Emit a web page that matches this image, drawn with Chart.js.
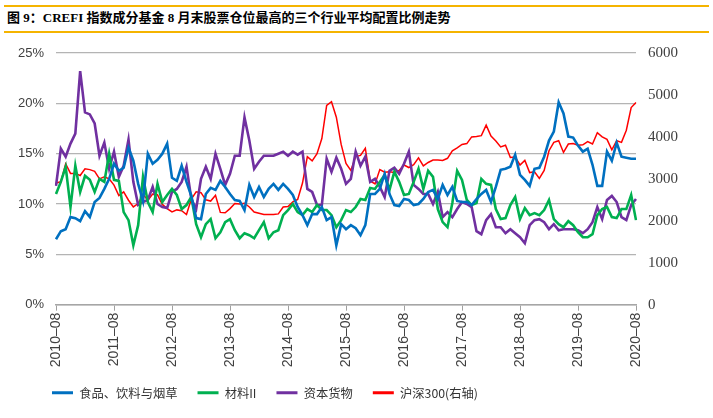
<!DOCTYPE html>
<html>
<head>
<meta charset="utf-8">
<script src="https://cdn.jsdelivr.net/npm/chart.js@4.4.0/dist/chart.umd.min.js"></script>
<style>
  body { margin: 0; width: 713px; height: 418px; background: #fff; overflow: hidden; position: relative; }
  #title {
    position: absolute; left: 4px; top: 5px; width: 702px; height: 24px;
    border-top: 2px solid #F5B400; border-bottom: 2px solid #F5B400;
    padding-left: 3px; line-height: 24px; color: #000;
    font: bold 13px "Liberation Serif", "Noto Sans CJK SC";
  }
  #wrap { position: absolute; left: 0; top: 32px; width: 713px; height: 386px; }
</style>
</head>
<body>
<div id="title">图 9：CREFI 指数成分基金 8 月末股票仓位最高的三个行业平均配置比例走势</div>
<div id="wrap"><canvas id="chartCanvas"></canvas></div>
<script>
// months 2010-08 .. 2020-08
const months = [];
for (let y = 2010; y <= 2020; y++) {
    for (let m = 1; m <= 12; m++) {
        if ((y === 2010 && m < 8) || (y === 2020 && m > 8)) continue;
        months.push(y + '–' + String(m).padStart(2, '0'));
    }
}

// 食品、饮料与烟草 (%)
const food = [
    6.5, 7.3, 7.5, 8.7, 8.6, 8.3, 9.3, 8.7, 10.2, 10.6,
    11.5, 12.5, 14.0, 13.3, 13.6, 15.6, 14.3, 12.0, 10.3, 15.0,
    14.0, 14.4, 15.0, 16.0, 12.6, 12.3, 13.8, 12.2, 10.8, 8.6,
    8.5, 11.0, 11.6, 11.4, 12.3, 11.7, 11.0, 10.4, 10.3, 9.4,
    11.9, 10.7, 11.7, 10.7, 11.5, 12.0, 11.4, 12.0, 11.5, 10.9,
    9.7, 8.9, 7.9, 9.0, 9.0, 9.7, 8.4, 8.7, 5.9, 8.0,
    7.5, 7.9, 7.6, 6.9, 7.9, 11.0, 11.0, 11.5, 13.0, 11.0,
    9.9, 9.8, 10.5, 10.4, 9.9, 10.0, 10.5, 11.2, 11.4, 10.5,
    11.9, 10.9, 11.7, 10.3, 10.2, 10.2, 9.9, 10.5, 11.0, 11.4,
    10.2, 11.7, 13.4, 13.5, 13.7, 14.9, 12.9, 12.4, 11.8, 13.5,
    13.6, 14.7, 16.3, 17.2, 20.1, 19.0, 16.7, 16.6, 15.8, 15.2,
    15.5, 13.9, 11.8, 11.8, 15.2, 14.3, 16.1, 14.7, 14.6, 14.5,
    14.5
];

// 材料II (%)
const materials = [
    11.0, 12.2, 13.7, 9.7, 13.8, 11.2, 12.8, 12.4, 11.2, 12.5,
    12.2, 15.0, 12.4, 12.3, 9.2, 8.4, 5.9, 7.9, 12.7, 10.2,
    9.2, 12.0, 10.2, 10.9, 11.5, 10.9, 9.5, 9.9, 10.7, 8.0,
    6.7, 8.0, 8.5, 6.6, 7.2, 8.2, 8.5, 7.4, 6.6, 7.1,
    6.9, 6.6, 7.4, 8.2, 6.6, 7.2, 7.4, 8.9, 9.4, 10.0,
    9.2, 8.9, 9.5, 9.2, 9.9, 9.4, 9.4, 8.9, 7.7, 8.4,
    9.4, 9.2, 9.7, 10.5, 10.4, 11.6, 11.5, 12.2, 12.9, 11.4,
    13.2, 12.2, 10.9, 11.0, 12.2, 13.5, 11.5, 13.3, 12.7, 9.5,
    8.2, 7.7, 10.1, 13.3, 12.4, 10.4, 9.9, 10.1, 12.5, 12.0,
    11.9, 9.5, 8.5, 8.6, 9.9, 10.7, 8.5, 9.6, 8.9, 9.1,
    8.9, 9.4, 10.4, 8.5, 8.0, 7.7, 8.3, 7.9, 7.2, 6.7,
    6.7, 7.0, 8.9, 9.5, 9.7, 8.7, 8.6, 9.5, 9.5, 10.9,
    8.4
];

// 资本货物 (%)
const capital = [
    11.8, 15.5, 14.7, 16.0, 17.0, 23.2, 19.1, 18.9, 18.0, 14.8,
    16.1, 13.5, 15.2, 12.7, 13.8, 16.4, 12.2, 9.9, 10.2, 10.4,
    11.7, 10.0, 9.7, 9.6, 11.2, 11.5, 12.2, 13.7, 10.5, 9.5,
    12.5, 13.7, 12.5, 15.0, 13.5, 11.9, 13.0, 14.8, 14.8, 18.6,
    16.3, 13.5, 14.2, 14.8, 14.8, 14.8, 15.0, 15.2, 14.8, 15.2,
    14.9, 15.2, 11.5, 11.2, 9.9, 9.9, 14.5, 13.2, 14.6, 13.5,
    12.0, 12.5, 15.2, 13.8, 14.7, 12.2, 12.5, 11.7, 10.7, 13.3,
    13.6, 13.0, 14.0, 15.2, 11.9, 11.5, 11.0, 11.0, 10.0, 11.2,
    8.7, 9.2, 8.7, 9.5, 10.2, 10.0, 9.7, 7.3, 7.0, 8.4,
    9.0, 7.7, 7.7, 7.1, 7.5, 7.1, 6.7, 6.1, 7.9, 8.4,
    8.5, 8.2, 7.5, 8.0, 7.4, 7.5, 7.5, 7.5, 7.4, 7.1,
    7.5, 8.2, 9.7, 8.5, 10.4, 10.8, 10.2, 8.7, 8.4, 9.9,
    10.5
];

// 沪深300 (右轴)
const hs300 = [
    2900, 2930, 3360, 3130, 3130, 3080, 3240, 3220, 3180, 3000,
    3050, 3000, 2850, 2600, 2690, 2490, 2330, 2410, 2630, 2490,
    2640, 2620, 2390, 2290, 2210, 2260, 2240, 2150, 2520, 2690,
    2670, 2500, 2470, 2610, 2200, 2190, 2290, 2410, 2400, 2420,
    2330, 2210, 2180, 2150, 2150, 2150, 2165, 2330, 2340, 2450,
    2510, 2900, 3530, 3430, 3600, 3960, 4750, 4840, 4470, 3820,
    3370, 3200, 3530, 3560, 3730, 2950, 2880, 3220, 3160, 3170,
    3150, 3200, 3330, 3270, 3340, 3500, 3310, 3390, 3450, 3450,
    3440, 3490, 3670, 3740, 3820, 3840, 4000, 4010, 4030, 4280,
    4020, 3900, 3760, 3800, 3510, 3520, 3330, 3440, 3150, 3170,
    3010, 3200, 3670, 3870, 3910, 3630, 3830, 3840, 3800, 3810,
    3890, 3830, 4100, 4000, 3940, 3690, 3910, 3870, 4160, 4700,
    4820
];

// axis ranges: [min, max, step]
const leftAxis = [0, 25, 5];
const rightAxis = [0, 6000, 1000];

const canvas = document.getElementById('chartCanvas');
const c = canvas.getContext('2d');

const line = (label, data, color, width, axis) => ({
    label: label,
    data: data,
    borderColor: color,
    backgroundColor: color,
    borderWidth: width,
    pointRadius: 0,
    tension: 0,
    fill: false,
    yAxisID: axis
});

// legend sits a bit in from the left edge, like the original
const legendShift = {
    id: 'legendShift',
    afterLayout: chart => { chart.legend.left = 32; }
};

new Chart(c, {
    type: 'line',
    data: {
        labels: months,
        datasets: [
            line('食品、饮料与烟草', food, '#0070C0', 2.6, 'y'),
            line('材料II', materials, '#00B050', 2.6, 'y'),
            line('资本货物', capital, '#7030A0', 2.6, 'y'),
            line('沪深300(右轴)', hs300, '#FF0000', 1.5, 'y1')
        ]
    },
    plugins: [legendShift],
    options: {
        responsive: true,
        maintainAspectRatio: false,
        animation: false,
        layout: { padding: { left: 0, right: 0, top: 19, bottom: 9 } },
        plugins: {
            tooltip: { enabled: false },
            legend: {
                position: 'bottom',
                align: 'start',
                labels: {
                    boxWidth: 21,
                    boxHeight: 3,
                    padding: 20,
                    color: '#333',
                    font: { family: '"Noto Sans CJK SC"', size: 12.3 },
                    generateLabels: chart => Chart.defaults.plugins.legend.labels.generateLabels(chart)
                        .map(l => Object.assign(l, { lineWidth: 0, fillStyle: l.strokeStyle }))
                }
            }
        },
        scales: {
            x: {
                grid: {
                    drawOnChartArea: false,
                    drawTicks: true,
                    tickLength: 6,
                    lineWidth: 1,
                    color: ctx => (ctx.index % 12 === 0 ? '#a0a0a0' : 'rgba(0,0,0,0)')
                },
                border: { display: true, color: '#a6a6a6', width: 1.5 },
                ticks: {
                    autoSkip: false,
                    minRotation: 90,
                    maxRotation: 90,
                    padding: 2,
                    color: '#404040',
                    font: { family: '"Liberation Sans"', size: 14 },
                    callback: (v, i) => (i % 12 === 0 ? months[i] : '')
                },
                afterFit: s => { s.height = 62; }
            },
            y: {
                position: 'left',
                min: leftAxis[0],
                max: leftAxis[1],
                ticks: {
                    stepSize: leftAxis[2],
                    padding: 12,
                    color: '#404040',
                    font: { family: '"Liberation Sans"', size: 13 },
                    callback: v => v + '%'
                },
                grid: { color: '#b4b4b4', lineWidth: 1.3, drawTicks: false },
                border: { display: false },
                afterFit: s => { s.width = 56; }
            },
            y1: {
                position: 'right',
                min: rightAxis[0],
                max: rightAxis[1],
                ticks: {
                    stepSize: rightAxis[2],
                    padding: 12,
                    color: '#404040',
                    font: { family: '"Liberation Serif"', size: 15 },
                    callback: v => String(v)
                },
                grid: { drawOnChartArea: false, drawTicks: false },
                border: { display: false },
                afterFit: s => { s.width = 77; }
            }
        }
    }
});
</script>
</body>
</html>
